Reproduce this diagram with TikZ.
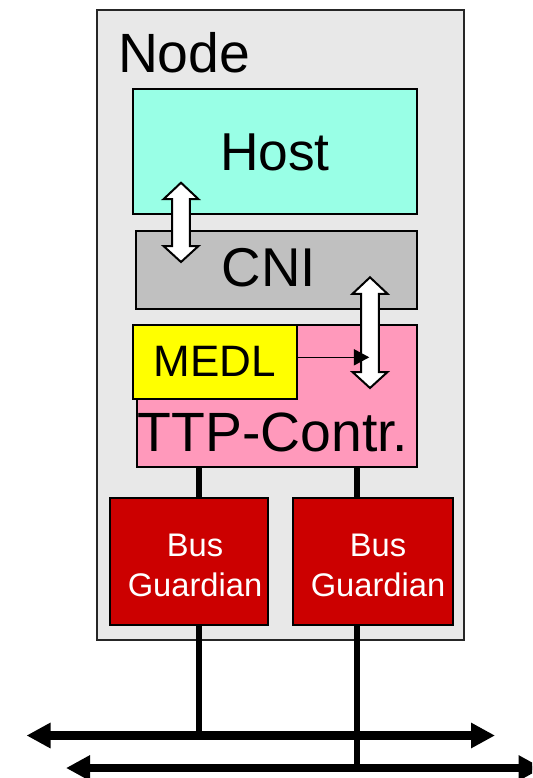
\documentclass[tikz,border=0pt]{standalone}
\usepackage{fontspec}
\setmainfont{Liberation Sans}
\usetikzlibrary{arrows.meta}
\definecolor{nodefill}{HTML}{E8E8E8}
\definecolor{hostfill}{HTML}{99FFE6}
\definecolor{cnifill}{HTML}{C0C0C0}
\definecolor{ttpfill}{HTML}{FF99BB}
\definecolor{medlfill}{HTML}{FFFF00}
\definecolor{guardfill}{HTML}{CC0000}
% hollow up/down block arrow: #1 centre x, #2 upper tip y, #3 lower tip y
\newcommand\blkarrow[3]{%
  \draw[blockarr] (#1,#2) -- ({#1+17.5},{#2+16.5}) -- ({#1+8.8},{#2+16.5})
    -- ({#1+8.8},{#3-16}) -- ({#1+17.5},{#3-16}) -- (#1,#3)
    -- ({#1-17.5},{#3-16}) -- ({#1-8.8},{#3-16}) -- ({#1-8.8},{#2+16.5})
    -- ({#1-17.5},{#2+16.5}) -- cycle;}
\begin{document}
\begin{tikzpicture}[x=0.75pt,y=-0.75pt,
  box/.style={draw=black, line width=1.5pt, inner sep=0pt, outer sep=0pt},
  lbl/.style={inner sep=0pt, outer sep=0pt, anchor=base, text=black,
    font=\fontsize{40}{48}\selectfont},
  guardlbl/.style={inner sep=0pt, outer sep=0pt, text=white, align=center,
    font=\fontsize{24.5}{29.6}\selectfont},
  blockarr/.style={fill=white, draw=black, line width=1.5pt, line join=miter},
  wire/.style={line width=4.6pt},
  busline/.style={line width=6.3pt,
    {Triangle[length=18pt,width=18pt]}-{Triangle[length=18pt,width=18pt]}}]
\useasboundingbox (0,0) rectangle (532,778);
\clip (0,0) rectangle (532,778);

% node enclosure
\node[box, draw=black!85, fill=nodefill, minimum width=275.25pt,
  minimum height=472.5pt] (node) at (280.5,325) {};
\node[lbl, anchor=base west, font=\fontsize{41.5}{50}\selectfont]
  (nodelbl) at (118,72.7) {Node};

% host and communication interface
\node[box, fill=hostfill, minimum width=213pt, minimum height=93.75pt]
  (host) at (275,151.5) {};
\node[lbl] (hostlbl) at (275,170) {Host};
\node[box, fill=cnifill, minimum width=210.75pt, minimum height=58.5pt]
  (cni) at (276.5,270) {};
\node[lbl, font=\fontsize{41}{49}\selectfont] (cnilbl) at (269,286.7) {CNI};

% TTP controller with its MEDL
\node[box, fill=ttpfill, minimum width=210.45pt, minimum height=106.3pt]
  (ttp) at (277,395.85) {};
\node[lbl, font=\fontsize{41.5}{50}\selectfont] (ttplbl) at (273,451.7) {TTP-Contr.};
\node[box, fill=medlfill, minimum width=123pt, minimum height=55.5pt]
  (medl) at (215,362) {};
\node[lbl, font=\fontsize{33}{40}\selectfont] (medllbl) at (214.7,376.7) {MEDL};

% bus guardians
\node[box, fill=guardfill, minimum width=118.5pt, minimum height=95.25pt]
  (bgL) at (189,561.5) {};
\node[guardlbl] (bgLlbl) at (195,565.3) {Bus\\Guardian};
\node[box, fill=guardfill, minimum width=120pt, minimum height=95.25pt]
  (bgR) at (373,561.5) {};
\node[guardlbl] (bgRlbl) at (378,565.3) {Bus\\Guardian};

% data paths inside the node
\blkarrow{181}{182.7}{262}
\blkarrow{370}{277.3}{388}
\coordinate (medltip) at (369.3,357.3);
\draw[line width=1.2pt, -{Triangle[length=11.5pt,width=12pt]}]
  (medl.east |- medltip) -- (medltip);

% replicated buses
\coordinate (busAw) at (26.5,735.5);
\coordinate (busAe) at (495,735.5);
\coordinate (busBw) at (66,768);
\coordinate (busBe) at (542.5,768);
\coordinate (wl) at (199,0);
\coordinate (wr) at (357,0);
\draw[wire] (ttp.south -| wl) -- (bgL.north -| wl);
\draw[wire] (bgL.south -| wl) -- (busAw -| wl);
\draw[wire] (ttp.south -| wr) -- (bgR.north -| wr);
\draw[wire] (bgR.south -| wr) -- (busBw -| wr);
\draw[busline] (busAw) -- (busAe);
\draw[busline] (busBw) -- (busBe);
\end{tikzpicture}
\end{document}
